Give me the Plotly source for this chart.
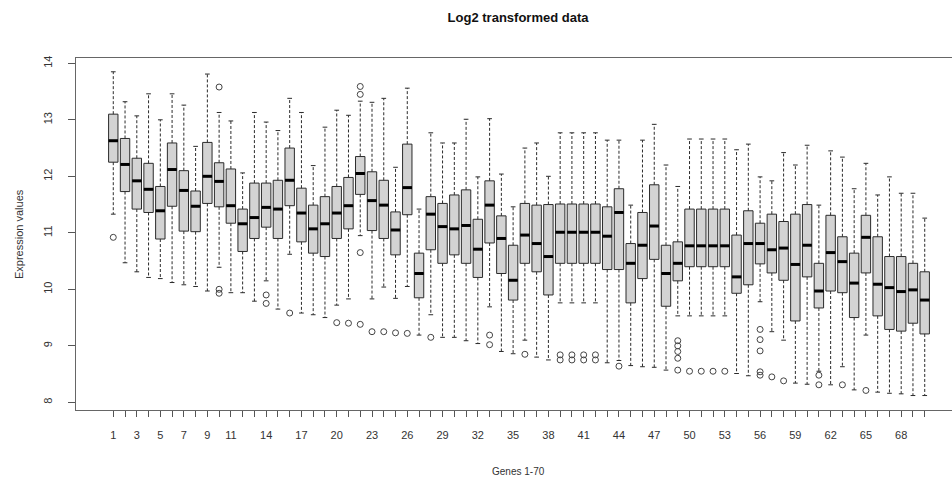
import plotly.graph_objects as go

# Five-number summaries for genes 1-70 (log2 expression)
genes = list(range(1, 71))

upper_whisker = [
    13.85, 13.32, 13.07, 13.46, 13.00, 13.46, 13.26, 12.53, 13.81, 13.13,
    12.98, 12.06, 13.13, 12.96, 12.81, 13.38, 13.13, 12.19, 12.87, 13.17,
    13.08, 13.33, 13.31, 13.38, 12.16, 13.56, 11.42, 12.77, 12.59, 12.59,
    13.01, 11.99, 13.02, 12.04, 11.46, 12.50, 12.59, 12.00, 12.77, 12.77,
    12.77, 12.77, 12.64, 12.64, 11.49, 12.64, 12.92, 12.20, 11.82, 12.66,
    12.66, 12.66, 12.66, 12.47, 12.57, 11.99, 11.92, 12.42, 12.20, 12.55,
    11.49, 12.45, 12.34, 11.78, 12.23, 11.67, 11.99, 11.70, 11.70, 11.26,
]
q3 = [
    13.10, 12.67, 12.32, 12.23, 11.82, 12.59, 12.10, 11.74, 12.60, 12.24,
    12.13, 11.42, 11.88, 11.88, 11.93, 12.50, 11.79, 11.49, 11.64, 11.82,
    11.98, 12.35, 12.08, 11.93, 11.37, 12.57, 10.64, 11.64, 11.52, 11.67,
    11.76, 11.24, 11.92, 11.30, 10.78, 11.52, 11.49, 11.50, 11.51, 11.51,
    11.51, 11.51, 11.46, 11.78, 10.81, 11.36, 11.85, 10.78, 10.84, 11.42,
    11.42, 11.42, 11.42, 10.96, 11.39, 11.17, 11.33, 11.20, 11.33, 11.50,
    10.46, 11.31, 10.93, 10.64, 11.31, 10.93, 10.58, 10.58, 10.46, 10.31,
]
median = [
    12.63, 12.21, 11.92, 11.77, 11.39, 12.12, 11.75, 11.47, 12.00, 11.91,
    11.48, 11.16, 11.27, 11.45, 11.42, 11.93, 11.35, 11.07, 11.16, 11.35,
    11.48, 12.05, 11.57, 11.49, 11.05, 11.80, 10.28, 11.33, 11.11, 11.07,
    11.13, 10.71, 11.49, 10.90, 10.16, 10.96, 10.81, 10.58, 11.01, 11.01,
    11.01, 11.01, 10.94, 11.36, 10.46, 10.78, 11.12, 10.28, 10.46, 10.77,
    10.77, 10.77, 10.77, 10.22, 10.81, 10.81, 10.70, 10.73, 10.44, 10.78,
    9.97, 10.65, 10.49, 10.11, 10.92, 10.09, 10.03, 9.96, 9.99, 9.81,
]
q1 = [
    12.25, 11.73, 11.42, 11.36, 10.89, 11.47, 11.03, 11.02, 11.52, 11.46,
    11.17, 10.67, 10.90, 11.10, 10.90, 11.48, 10.84, 10.64, 10.58, 10.90,
    11.07, 11.68, 11.04, 10.90, 10.61, 11.32, 9.85, 10.70, 10.46, 10.61,
    10.46, 10.21, 10.82, 10.28, 9.81, 10.46, 10.31, 9.90, 10.46, 10.46,
    10.46, 10.46, 10.35, 10.35, 9.76, 10.19, 10.53, 9.70, 10.15, 10.40,
    10.40, 10.40, 10.40, 9.93, 10.08, 10.45, 10.29, 10.16, 9.44, 10.22,
    9.67, 9.97, 9.94, 9.50, 10.29, 9.53, 9.29, 9.26, 9.40, 9.21,
]
lower_whisker = [
    11.33, 10.47, 10.31, 10.21, 10.19, 10.12, 10.08, 10.05, 9.97, 10.39,
    9.94, 9.94, 9.79, 10.15, 9.65, 10.62, 9.58, 9.55, 9.50, 9.72,
    9.83, 10.95, 9.83, 10.04, 9.84, 10.05, 9.19, 9.55, 9.15, 9.15,
    9.09, 9.04, 9.69, 8.90, 8.86, 9.10, 8.80, 8.75, 9.76, 9.76,
    9.76, 9.76, 8.70, 8.74, 8.65, 8.63, 8.62, 8.57, 9.53, 9.53,
    9.53, 9.53, 9.53, 8.51, 8.47, 9.78, 9.25, 9.10, 8.34, 8.32,
    8.55, 8.31, 8.63, 8.22, 9.19, 8.18, 8.16, 8.15, 8.12, 8.12,
]

# Points beyond the whiskers
outlier_gene = [
    1, 10, 10, 10, 14, 14, 16, 20, 21, 22, 22, 22, 22, 23, 24, 25, 26, 28,
    33, 33, 36, 39, 39, 40, 40, 41, 41, 42, 42, 44, 49, 49, 49, 49, 49,
    50, 51, 52, 53, 56, 56, 56, 56, 56, 57, 58, 61, 61, 63, 65,
]
outlier_value = [
    10.92, 13.58, 10.00, 9.93, 9.90, 9.75, 9.58, 9.41, 9.40, 13.59, 13.45, 10.65, 9.38,
    9.25, 9.25, 9.23, 9.22, 9.15,
    9.19, 9.02, 8.85, 8.84, 8.75, 8.84, 8.75, 8.84, 8.75, 8.84, 8.75, 8.64,
    9.09, 9.00, 8.90, 8.78, 8.57,
    8.55, 8.55, 8.55, 8.55, 9.29, 9.11, 8.91, 8.54, 8.48, 8.45, 8.38, 8.48, 8.31, 8.31, 8.21,
]

labelled_ticks = [1, 3, 5, 7, 9, 11, 14, 17, 20, 23, 26, 29, 32, 35, 38, 41,
                  44, 47, 50, 53, 56, 59, 62, 65, 68]
y_ticks = [8, 9, 10, 11, 12, 13, 14]

BOX_W = 0.8
CAP_HALF = 0.2
MED_HALF = 0.4
INK = "#2b2b2b"
FONT = "Liberation Sans, Arial, sans-serif"

fig = go.Figure()

# Boxes (whiskers drawn separately as dashed lines)
fig.add_trace(go.Box(
    x=genes, q1=q1, median=median, q3=q3,
    lowerfence=q1, upperfence=q3,
    width=BOX_W, whiskerwidth=0,
    fillcolor="#d3d3d3", line=dict(color=INK, width=1),
    boxpoints=False, hoverinfo="skip", showlegend=False,
))

def segments(xs0, xs1, ys0, ys1):
    xs, ys = [], []
    for a, b, c, d in zip(xs0, xs1, ys0, ys1):
        xs += [a, b, None]
        ys += [c, d, None]
    return xs, ys

# Dashed whiskers
wx, wy = segments(genes + genes, genes + genes,
                  q3 + q1, upper_whisker + lower_whisker)
fig.add_trace(go.Scatter(x=wx, y=wy, mode="lines",
                         line=dict(color=INK, width=1, dash="3px,2px"),
                         hoverinfo="skip", showlegend=False))

# Whisker caps
cx, cy = segments([g - CAP_HALF for g in genes] * 2,
                  [g + CAP_HALF for g in genes] * 2,
                  upper_whisker + lower_whisker,
                  upper_whisker + lower_whisker)
fig.add_trace(go.Scatter(x=cx, y=cy, mode="lines",
                         line=dict(color=INK, width=1),
                         hoverinfo="skip", showlegend=False))

# Thick median bars
mx, my = segments([g - MED_HALF for g in genes],
                  [g + MED_HALF for g in genes], median, median)
fig.add_trace(go.Scatter(x=mx, y=my, mode="lines",
                         line=dict(color="#000000", width=3),
                         hoverinfo="skip", showlegend=False))

# Outliers
fig.add_trace(go.Scatter(x=outlier_gene, y=outlier_value, mode="markers",
                         marker=dict(symbol="circle-open", size=6,
                                     color="#444444", line=dict(width=1)),
                         hoverinfo="skip", showlegend=False))

fig.update_layout(
    width=952, height=477,
    margin=dict(l=76, r=0, t=58, b=67),
    paper_bgcolor="white", plot_bgcolor="white",
    font=dict(family=FONT, size=11, color="#333333"),
    title=dict(text="<b>Log2 transformed data</b>", x=0.5046, xref="paper",
               y=1 - 17 / 477, yref="container", xanchor="center", yanchor="middle",
               font=dict(family=FONT, size=13, color="#111111")),
    showlegend=False,
)

fig.update_xaxes(
    range=[-2.17, 72.32], tickmode="array", tickvals=genes,
    ticktext=[str(g) if g in labelled_ticks else "" for g in genes],
    ticks="outside", ticklen=6, tickcolor="#555555", tickwidth=1,
    ticklabelstandoff=9,
    showline=True, linecolor="#666666", linewidth=1, mirror=True,
    showgrid=False, zeroline=False,
)
fig.update_yaxes(
    range=[7.864, 14.094], tickmode="array", tickvals=y_ticks,
    ticktext=[str(v) for v in y_ticks], tickangle=-90,
    ticks="outside", ticklen=7, tickcolor="#555555", tickwidth=1,
    ticklabelstandoff=12,
    showline=True, linecolor="#666666", linewidth=1, mirror=False,
    showgrid=False, zeroline=False,
)

fig.add_annotation(text="Expression values", xref="paper", yref="paper",
                   x=(19 - 76) / 876, y=0.5, textangle=-90, showarrow=False,
                   xanchor="center", yanchor="middle",
                   font=dict(family=FONT, size=11, color="#333333"))
fig.add_annotation(text="Genes 1-70", xref="paper", yref="paper",
                   x=(518 - 76) / 876, y=(410 - 471) / 352, showarrow=False,
                   xanchor="center", yanchor="middle",
                   font=dict(family=FONT, size=10, color="#333333"))

fig.write_html("out.html")
